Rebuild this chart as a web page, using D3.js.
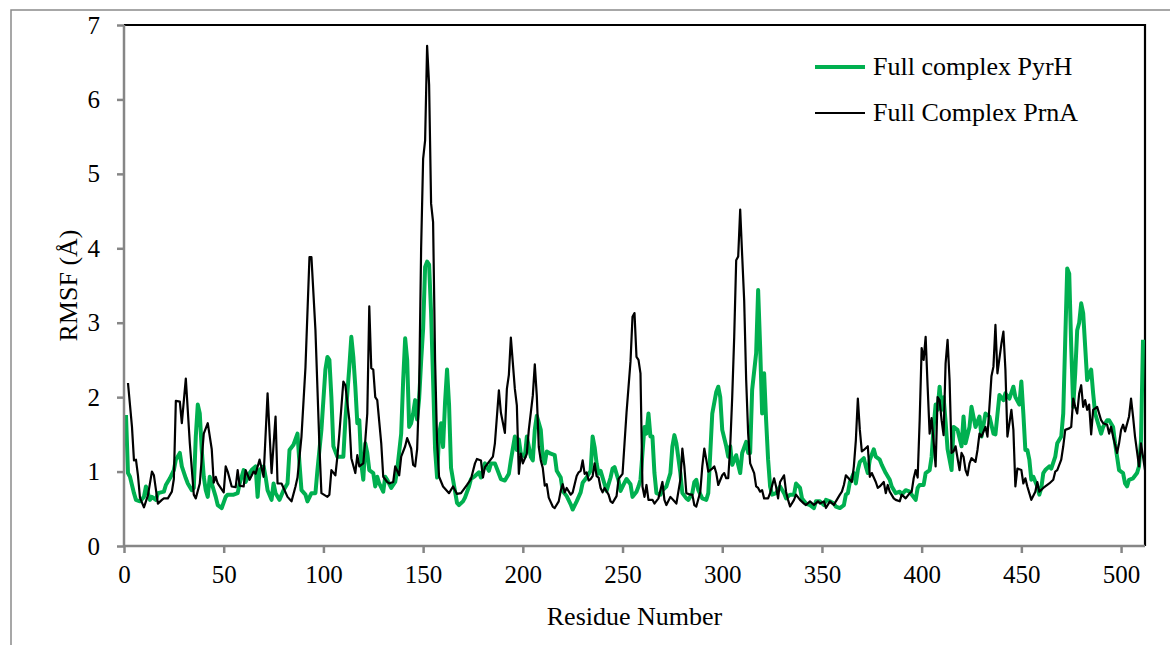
<!DOCTYPE html>
<html>
<head>
<meta charset="utf-8">
<script src="https://cdn.jsdelivr.net/npm/d3@7/dist/d3.min.js"></script>
<style>
  html, body { margin: 0; padding: 0; background: #ffffff; }
  svg { display: block; }
  text { font-family: "Liberation Serif", "Times New Roman", serif; fill: #000; }
</style>
</head>
<body>
<svg id="chart" width="1170" height="645"></svg>
<script>
// ---------------- data ----------------
const seriesNames = ["Full complex PyrH", "Full Complex PrnA"];
const xTicks = [0, 50, 100, 150, 200, 250, 300, 350, 400, 450, 500];
const yTicks = [0, 1, 2, 3, 4, 5, 6, 7];

const pyrhRes = [1,2,3,5,6,8,10,11,13,14,16,17,20,21,23,25,26,28,29,31,32,34,35,36,37,38,39,40,41,42,43,44,46,47,49,51,52,55,57,58,60,61,63,64,66,67,68,70,71,72,74,75,76,78,80,82,83,85,87,88,89,91,92,94,96,97,99,101,102,103,104,105,107,108,110,111,113,114,115,116,117,118,119,120,121,122,123,125,126,127,128,130,131,132,134,136,137,139,140,141,142,143,144,145,146,147,148,149,150,151,152,153,154,155,156,157,158,159,160,161,162,163,164,165,167,168,170,171,173,174,176,178,179,181,183,184,186,188,189,191,193,194,196,197,198,199,201,202,204,205,206,207,209,210,211,212,214,216,217,219,220,222,224,225,227,229,230,232,234,235,236,237,238,239,241,242,244,245,246,248,249,251,252,254,255,257,258,259,260,261,262,263,264,265,266,267,269,270,272,274,275,276,277,279,280,282,283,285,286,287,288,290,292,293,294,295,297,298,299,300,302,303,304,305,307,308,309,310,312,313,314,315,317,318,319,320,321,322,323,324,325,327,329,331,332,334,336,337,339,340,342,344,346,347,349,351,352,354,356,357,359,361,362,363,364,366,367,368,369,371,372,373,374,376,377,379,380,382,384,385,387,389,390,392,394,395,397,398,399,401,402,404,405,406,407,408,409,410,411,412,413,415,416,418,420,421,422,424,425,427,429,430,432,434,436,437,439,441,442,444,446,447,449,450,451,452,453,454,455,456,458,459,460,461,462,464,465,467,468,470,471,472,473,474,475,476,477,478,479,480,481,482,483,485,486,487,488,490,491,493,494,496,497,498,499,501,502,503,504,506,508,509,510,511];
const pyrhVal = [1.76,0.98,0.93,0.71,0.62,0.6,0.66,0.8,0.62,0.66,0.62,0.71,0.73,0.82,0.91,1.02,1.16,1.25,1.07,0.91,0.84,0.75,0.78,1.47,1.9,1.78,1.29,0.93,0.75,0.66,0.93,0.84,0.66,0.55,0.51,0.66,0.69,0.69,0.71,0.84,1.02,0.86,0.98,1.02,1.07,0.66,1.02,1.07,0.93,0.75,0.62,0.84,0.71,0.62,0.75,0.84,1.29,1.36,1.51,1.11,0.75,0.69,0.6,0.71,0.71,1.02,1.56,2.37,2.54,2.5,2.0,1.34,1.2,1.2,1.2,1.69,2.41,2.81,2.54,2.14,1.65,1.69,1.11,0.89,1.38,1.25,1.02,0.98,0.8,0.93,0.84,0.73,0.93,0.89,0.78,0.86,1.02,1.51,2.23,2.79,2.5,1.6,1.65,1.78,1.96,1.7,1.98,2.48,2.92,3.75,3.82,3.78,3.13,2.23,1.3,0.92,1.5,1.65,1.33,1.93,2.37,1.9,1.05,0.89,0.58,0.55,0.6,0.65,0.8,0.9,0.94,0.99,0.92,1.11,1.01,1.11,1.11,0.97,0.9,0.88,0.97,1.15,1.47,1.29,1.43,1.24,1.2,1.47,1.2,1.15,1.56,1.75,1.56,1.2,1.11,1.27,1.24,1.22,1.01,0.92,0.74,0.67,0.56,0.49,0.6,0.72,0.85,0.92,1.01,1.47,1.33,1.11,0.97,1.01,0.83,0.74,0.92,1.04,1.06,0.88,0.74,0.85,0.9,0.83,0.66,0.73,0.8,0.89,1.25,1.6,1.51,1.78,1.47,1.47,0.98,0.71,0.69,0.75,0.8,0.98,1.34,1.49,1.38,0.98,0.71,0.64,0.62,0.71,0.86,0.89,0.75,0.64,0.62,0.71,1.25,1.78,2.07,2.14,2.0,1.56,1.34,1.2,1.34,1.09,1.22,1.09,0.98,1.25,1.4,1.25,1.25,2.1,2.59,3.44,2.68,1.78,2.32,1.69,1.16,0.8,0.69,0.71,0.8,0.71,0.64,0.69,0.69,0.84,0.78,0.64,0.57,0.55,0.51,0.6,0.6,0.55,0.62,0.6,0.57,0.53,0.51,0.55,0.69,0.71,0.86,0.98,0.84,1.02,1.13,1.18,1.07,0.98,1.16,1.3,1.2,1.16,1.09,0.98,0.89,0.8,0.71,0.73,0.69,0.75,0.73,0.69,0.62,0.78,0.82,0.82,0.98,1.02,1.2,1.6,1.9,1.83,2.14,1.83,2.0,1.67,1.3,1.02,1.6,1.56,1.34,1.74,1.38,1.6,1.87,1.6,1.74,1.47,1.78,1.74,1.51,1.5,2.03,1.96,2.05,1.98,2.14,2.0,1.9,2.21,1.78,1.29,1.29,1.16,0.89,0.93,0.8,0.69,0.78,0.98,1.02,1.07,1.04,1.2,1.38,1.47,1.78,2.77,3.73,3.66,2.68,1.87,2.32,2.9,3.0,3.26,3.13,2.68,2.23,2.37,2.05,1.78,1.69,1.51,1.6,1.69,1.69,1.6,1.38,1.2,1.02,0.98,0.84,0.8,0.89,0.91,0.98,1.07,1.42,2.77];

const prnaRes = [2,4,5,6,7,8,10,12,14,15,17,19,20,22,24,25,26,28,29,31,33,35,36,38,40,42,44,45,46,47,50,51,52,54,56,57,58,60,61,63,65,66,68,70,72,74,76,77,79,82,84,86,87,89,91,93,94,96,98,99,102,103,104,106,107,108,110,111,113,114,116,117,118,120,121,122,123,124,125,126,127,129,130,132,133,135,136,138,139,141,142,144,145,146,147,148,149,150,151,152,153,154,155,156,157,158,160,162,163,165,167,169,172,174,176,177,179,180,181,183,185,186,188,189,191,192,193,194,196,197,198,199,200,202,203,205,206,207,208,209,210,211,212,213,215,216,218,219,220,221,222,224,225,227,228,229,230,231,232,233,234,235,236,237,238,239,240,241,243,244,245,247,248,250,251,252,254,255,256,257,258,259,260,261,262,263,265,266,268,270,271,272,274,276,277,279,280,281,282,284,285,286,287,289,290,291,292,293,295,296,297,298,300,301,302,303,304,305,306,307,308,309,310,311,312,313,314,316,317,318,319,320,321,323,324,326,327,328,329,331,332,333,334,336,337,339,341,342,344,346,348,349,351,352,354,356,357,359,360,361,362,364,365,366,367,368,369,370,371,373,374,375,377,378,379,381,382,383,384,386,387,389,390,392,394,395,396,397,398,399,400,401,402,403,404,405,406,407,408,409,410,411,412,413,414,415,416,417,419,420,421,422,423,424,425,427,428,429,430,432,433,435,436,437,438,440,441,442,443,445,446,447,448,450,451,452,453,455,457,458,459,461,462,464,466,467,468,470,471,472,474,475,476,477,478,479,480,481,482,483,484,485,486,488,489,490,491,493,494,495,496,498,499,500,501,502,504,505,506,507,509,510,511,512];
const prnaVal = [2.19,1.6,1.15,1.16,0.95,0.65,0.52,0.68,1.0,0.95,0.57,0.62,0.64,0.64,0.73,0.9,1.95,1.94,1.65,2.25,1.38,0.69,0.64,0.84,1.51,1.65,1.3,0.85,0.93,0.84,0.72,1.07,1.0,0.8,0.79,1.02,0.81,0.8,1.02,0.89,1.0,0.97,1.16,0.93,2.05,0.98,1.74,0.84,0.84,0.66,0.6,0.8,0.92,1.47,2.4,3.88,3.88,2.9,1.34,0.71,0.66,0.69,1.02,0.95,1.2,1.51,2.21,2.16,1.69,1.18,0.98,1.22,1.07,1.11,1.42,1.78,3.22,2.39,2.37,2.0,1.96,1.38,0.93,0.86,0.84,0.86,1.07,0.95,1.2,1.34,1.45,1.31,1.09,1.07,1.3,2.1,4.0,5.2,5.45,6.72,6.2,4.6,4.35,2.5,1.4,0.93,0.8,0.74,0.71,0.8,0.7,0.71,0.82,0.9,1.11,1.17,1.15,0.92,1.06,1.13,1.2,1.38,2.09,1.79,1.52,2.11,2.3,2.8,2.11,1.89,0.97,1.24,1.11,1.24,1.56,2.02,2.44,2.02,1.33,1.15,1.05,0.81,0.83,0.65,0.53,0.51,0.6,0.74,0.83,0.72,0.78,0.69,0.72,0.94,0.99,1.01,1.15,0.97,0.99,0.88,0.9,0.94,1.11,0.94,0.92,0.78,0.72,0.78,0.69,0.6,0.58,0.67,0.9,0.97,1.38,1.79,2.48,3.08,3.13,2.54,2.5,2.32,0.8,0.66,0.82,0.62,0.62,0.57,0.64,0.86,0.62,0.55,0.66,0.6,0.57,0.89,1.31,1.07,0.71,0.69,0.69,0.55,0.53,0.73,1.07,1.31,1.16,1.0,1.04,1.07,0.98,0.82,0.95,0.98,0.91,0.91,1.34,2.0,2.81,3.84,3.89,4.52,3.9,3.3,2.23,1.51,1.11,0.98,0.8,0.78,0.73,0.75,0.64,0.64,0.71,0.91,0.8,0.64,0.86,0.95,0.73,0.62,0.53,0.62,0.69,0.62,0.57,0.55,0.6,0.55,0.6,0.57,0.6,0.51,0.6,0.55,0.6,0.69,0.73,0.82,0.95,0.89,0.86,1.07,1.42,1.98,1.56,1.27,1.29,1.34,0.93,0.98,0.86,0.78,0.8,0.86,0.71,0.82,0.73,0.64,0.62,0.6,0.69,0.64,0.71,0.73,0.91,1.02,0.92,1.69,2.66,2.5,2.81,2.14,1.51,1.72,1.4,1.07,2.0,1.96,1.69,1.49,2.45,2.77,2.23,1.25,1.27,1.34,1.02,1.25,1.2,1.02,0.95,1.11,1.18,1.13,1.29,1.51,1.47,1.6,1.47,2.28,2.41,2.97,2.32,2.72,2.88,2.37,1.47,1.83,1.56,0.8,1.04,1.02,0.84,0.91,0.8,0.62,0.73,0.86,0.73,0.78,0.8,0.84,0.89,1.0,1.02,1.16,1.34,1.56,1.58,1.6,1.98,1.87,1.78,2.05,2.16,1.87,1.96,1.83,1.9,1.5,1.83,1.87,1.78,1.69,1.65,1.63,1.51,1.6,1.47,1.25,1.38,1.56,1.63,1.54,1.74,1.98,1.74,1.47,1.07,1.38,1.2,1.02];

// ---------------- drawing ----------------
const svg = d3.select("#chart");
const W = 1170, H = 645;
const plot = { left: 124, right: 1145, top: 25, bottom: 546 };
const green = "#00b050";
const axisGray = "#868686";

// outer chart-area frame
svg.append("rect")
  .attr("x", 11).attr("y", 10)
  .attr("width", W + 20).attr("height", H + 20)
  .attr("fill", "none").attr("stroke", "#8a8a8a").attr("stroke-width", 1.5);

const x = d3.scaleLinear().domain([0, 512]).range([plot.left, plot.right]);
const y = d3.scaleLinear().domain([0, 7]).range([plot.bottom, plot.top]);

// plot area border (black top + right)
svg.append("path")
  .attr("d", `M${plot.left},${y(7)}H${x(512)}V${plot.bottom}`)
  .attr("fill", "none").attr("stroke", "#000").attr("stroke-width", 2.2);

const pyrh = d3.zip(pyrhRes, pyrhVal);
const prna = d3.zip(prnaRes, prnaVal);
const line = d3.line().x(d => x(d[0])).y(d => y(d[1]));

svg.append("path").datum(pyrh)
  .attr("d", line).attr("fill", "none")
  .attr("stroke", green).attr("stroke-width", 4).attr("stroke-linejoin", "round");

svg.append("path").datum(prna)
  .attr("d", line).attr("fill", "none")
  .attr("stroke", "#000").attr("stroke-width", 2.2).attr("stroke-linejoin", "round");

// axes
const xAxis = d3.axisBottom(x).tickValues(xTicks).tickSize(7).tickPadding(12).tickFormat(d3.format("d"));
const gx = svg.append("g").attr("transform", `translate(0,${plot.bottom})`).call(xAxis);
gx.select(".domain").attr("stroke", axisGray).attr("stroke-width", 2.5)
  .attr("d", `M${plot.left},0H${x(512)}`);
gx.selectAll(".tick line").attr("stroke", axisGray).attr("stroke-width", 2.5);
gx.selectAll(".tick text").attr("font-size", 25).attr("font-family", "'Liberation Serif', 'Times New Roman', serif").attr("fill", "#000");

const yAxis = d3.axisLeft(y).tickValues(yTicks).tickSize(7).tickPadding(17).tickFormat(d3.format("d"));
const gy = svg.append("g").attr("transform", `translate(${plot.left},0)`).call(yAxis);
gy.select(".domain").attr("stroke", axisGray).attr("stroke-width", 2.5)
  .attr("d", `M0,${plot.bottom}V${plot.top}`);
gy.selectAll(".tick line").attr("stroke", axisGray).attr("stroke-width", 2.5);
gy.selectAll(".tick text").attr("font-size", 25).attr("font-family", "'Liberation Serif', 'Times New Roman', serif").attr("fill", "#000");

// axis titles
svg.append("text")
  .attr("x", (plot.left + plot.right) / 2).attr("y", 625)
  .attr("text-anchor", "middle").attr("font-size", 26)
  .text("Residue Number");

svg.append("text")
  .attr("transform", `translate(77,${(plot.top + plot.bottom) / 2}) rotate(-90)`)
  .attr("text-anchor", "middle").attr("font-size", 26)
  .text("RMSF (Å)");

// legend
const legend = svg.append("g");
const legendItems = [
  { name: seriesNames[0], color: green, width: 4, yy: 67 },
  { name: seriesNames[1], color: "#000", width: 2.2, yy: 113 }
];
legendItems.forEach(it => {
  legend.append("line")
    .attr("x1", 815).attr("x2", 865).attr("y1", it.yy).attr("y2", it.yy)
    .attr("stroke", it.color).attr("stroke-width", it.width);
  legend.append("text")
    .attr("x", 873).attr("y", it.yy + 8)
    .attr("font-size", 26)
    .text(it.name);
});
</script>
</body>
</html>
